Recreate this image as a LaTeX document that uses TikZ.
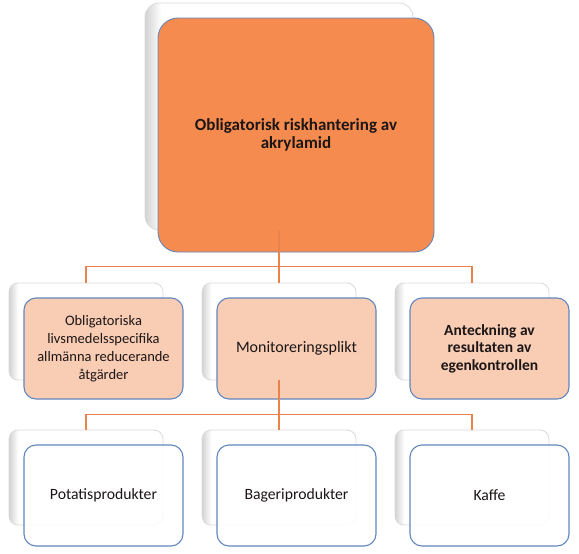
\documentclass[tikz,border=0pt]{standalone}
\usepackage{fontspec}
\setmainfont{Carlito}
\definecolor{topor}{RGB}{245,139,78}
\definecolor{peach}{RGB}{249,204,180}
\definecolor{bordblue}{RGB}{98,134,190}
\definecolor{lineor}{RGB}{234,130,75}
\definecolor{backgray}{RGB}{218,218,218}
\definecolor{txt}{RGB}{28,22,22}
\pgfdeclarehorizontalshading{backshade}{100bp}{color(0bp)=(gray!35); color(25bp)=(gray!35); color(28bp)=(white); color(100bp)=(white)}
\tikzset{
  backbox/.style={rectangle, rounded corners=9pt, draw=backgray, line width=0.8pt, shade, shading=backshade, anchor=north west, inner sep=0pt, outer sep=0pt},
  frontbox/.style={rectangle, rounded corners=12pt, draw=bordblue, line width=1.1pt, anchor=north west, inner sep=0pt, outer sep=0pt, align=center, text=txt, font=\fontsize{14.5}{18}\selectfont},
  midbox/.style={frontbox, fill=peach, minimum width=159pt, minimum height=101pt},
  lowbox/.style={frontbox, fill=white, fill opacity=0.9, text opacity=1, minimum width=159pt, minimum height=101pt, font=\fontsize{15.7}{18}\selectfont},
  sback/.style={backbox, minimum width=154pt, minimum height=97pt},
  conn/.style={draw=lineor, line width=1.2pt}
}
\begin{document}
\begin{tikzpicture}[x=1pt,y=-1pt]
\useasboundingbox (0,0) rectangle (579,554);
% top
\node[backbox, minimum width=268pt, minimum height=227pt, rounded corners=14pt] (tb) at (145,3) {};
\node[frontbox, fill=topor, minimum width=276pt, minimum height=234pt, rounded corners=20pt, line width=0.9pt, font=\bfseries\fontsize{17}{18.5}\selectfont] (tf) at (158,18) {Obligatorisk riskhantering av\\akrylamid};
% middle row
\node[sback] (mb1) at (9,283) {};
\node[sback] (mb2) at (202,283) {};
\node[sback] (mb3) at (395,283) {};
\node[midbox] (mf1) at (24,298) {Obligatoriska\\livsmedelsspecifika\\allmänna reducerande\\åtgärder};
\node[midbox, font=\fontsize{16}{18}\selectfont] (mf2) at (217,298) {Monitoreringsplikt};
\node[midbox, font=\bfseries\fontsize{15.5}{17.5}\selectfont] (mf3) at (410,298) {Anteckning av\\resultaten av\\egenkontrollen};
% bottom row
\node[sback, minimum height=95pt] (bb1) at (9,430) {};
\node[sback, minimum height=95pt] (bb2) at (202,430) {};
\node[sback, minimum height=95pt] (bb3) at (395,430) {};
\node[lowbox] (bf1) at (24,445) {Potatisprodukter};
\node[lowbox] (bf2) at (217,445) {Bageriprodukter};
\node[lowbox] (bf3) at (410,445) {Kaffe};
% connectors
\coordinate (j1) at (279,266.5);
\coordinate (j2) at (279,414.5);
\draw[conn] (tb.south) -- (mb2.north);
\draw[conn] (mb1.north) |- (j1) -| (mb3.north);
\draw[conn] (mb2.south) -- (bb2.north);
\draw[conn] (bb1.north) |- (j2) -| (bb3.north);
\end{tikzpicture}
\end{document}
